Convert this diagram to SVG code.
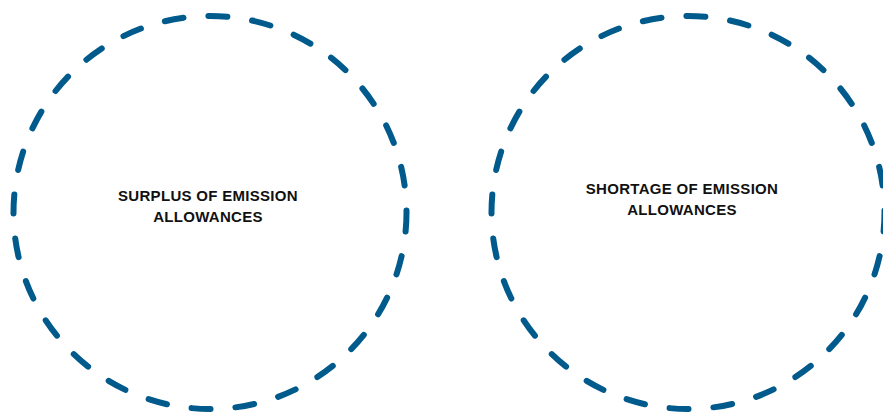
<svg xmlns="http://www.w3.org/2000/svg" width="883" height="419" viewBox="0 0 883 419">
  <style>
    .ring { fill: none; stroke: #005a8c; stroke-width: 6; stroke-linecap: round; stroke-dasharray: 19 25; }
    .label { font-family: "Liberation Sans", Arial, sans-serif; font-weight: bold; font-size: 15px; letter-spacing: 0.3px; fill: #111111; text-anchor: middle; }
  </style>
  <rect width="883" height="419" fill="#ffffff"/>
  <g id="surplus">
    <circle class="ring" cx="210" cy="212.5" r="196.5"/>
    <text class="label" x="208" y="201">SURPLUS OF EMISSION</text>
    <text class="label" x="208" y="222">ALLOWANCES</text>
  </g>
  <g id="shortage">
    <circle class="ring" cx="688" cy="212.5" r="196.5"/>
    <text class="label" x="682" y="194">SHORTAGE OF EMISSION</text>
    <text class="label" x="682" y="215">ALLOWANCES</text>
  </g>
</svg>
